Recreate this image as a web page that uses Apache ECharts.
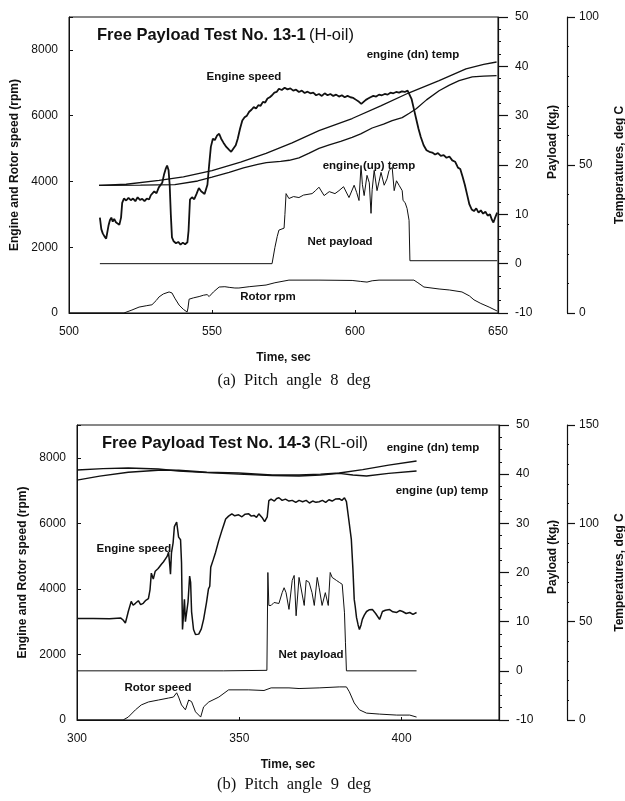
<!DOCTYPE html>
<html>
<head>
<meta charset="utf-8">
<script src="https://cdn.jsdelivr.net/npm/echarts@6/dist/echarts.min.js"></script>
<style>html,body{margin:0;padding:0;background:#fff;}#c{width:625px;height:801px;}</style>
</head>
<body>
<div id="c"></div>
<script>
// ---------- Panel (a): Test 13-1, pitch 8 deg ----------
const aTimeTicks = [500, 550, 600, 650];
const aEngineSpeed = [[510.8,2900],[511.3,2550],[511.8,2420],[512.4,2330],[513.0,2260],[513.4,2300],[513.8,2650],[514.3,2820],[514.8,2900],[515.3,2780],[515.8,2860],[516.4,2760],[517.0,2820],[517.6,2680],[518.2,2900],[518.6,3350],[519.2,3480],[520.0,3420],[520.8,3500],[521.6,3430],[522.4,3480],[523.2,3400],[524.0,3520],[524.8,3440],[525.6,3470],[526.4,3400],[527.2,3480],[528.0,3450],[528.6,3580],[529.2,3520],[529.8,3700],[530.6,3640],[531.4,3820],[532.0,3760],[532.6,3960],[533.2,4200],[533.8,4380],[534.3,4480],[534.8,4350],[535.2,3900],[535.6,3000],[536.0,2300],[536.6,2180],[537.4,2120],[538.2,2160],[539.0,2080],[539.8,2140],[540.6,2090],[541.4,2150],[541.8,2500],[542.3,3450],[543.0,3520],[543.8,3460],[544.6,3620],[545.4,3800],[546.2,3700],[546.8,3760],[547.4,3620],[547.9,3580],[548.4,3900],[549.0,4500],[549.6,5050],[550.3,5300],[551.0,5260],[551.8,5400],[552.5,5450],[553.2,5300],[554.0,5180],[555.0,5050],[556.0,4960],[556.7,4900],[557.5,5000],[558.3,5100],[559.0,5300],[559.8,5600],[560.6,5850],[561.4,5950],[562.2,6000],[563.0,6120],[563.8,6180],[564.6,6260],[565.4,6220],[566.2,6320],[567.0,6300],[567.8,6420],[568.6,6400],[569.4,6520],[570.2,6560],[571.0,6620],[571.8,6700],[572.6,6720],[573.4,6820],[574.4,6780],[575.4,6850],[576.4,6800],[577.4,6830],[578.4,6760],[579.4,6790],[580.4,6720],[581.4,6760],[582.4,6690],[583.4,6730],[584.4,6680],[585.4,6700],[586.4,6620],[587.4,6660],[588.4,6600],[589.4,6680],[590.4,6620],[591.4,6660],[592.4,6600],[593.4,6640],[594.4,6580],[595.4,6620],[596.4,6560],[597.4,6600],[598.4,6560],[599.4,6540],[600.4,6480],[601.4,6420],[602.2,6360],[603.0,6420],[603.8,6480],[604.6,6520],[605.4,6560],[606.4,6600],[607.4,6580],[608.4,6640],[609.4,6620],[610.4,6660],[611.4,6640],[612.4,6700],[613.4,6680],[614.4,6720],[615.4,6700],[616.4,6740],[617.4,6720],[618.4,6760],[619.0,6700],[619.8,6500],[620.6,6200],[621.4,5900],[622.2,5600],[623.0,5350],[624.0,5100],[625.0,4950],[626.0,4900],[627.0,4880],[628.0,4820],[629.0,4860],[630.0,4780],[631.0,4800],[632.0,4720],[633.0,4760],[634.0,4640],[635.0,4600],[636.0,4420],[636.8,4380],[637.6,4150],[638.4,3900],[639.2,3600],[640.0,3300],[640.8,3150],[641.6,3100],[642.4,3180],[643.2,3050],[644.0,3120],[644.8,3020],[645.6,3080],[646.4,2960],[647.2,3000],[647.8,2850],[648.4,2750],[649.0,2900],[649.7,3050]];
const aRotorRpm = [[500,0],[519.2,0],[522,90],[524.5,180],[527,220],[529,250],[530.5,380],[531.5,490],[533,580],[535,640],[536,610],[537,450],[538.5,240],[540,110],[541.3,30],[541.6,150],[542,420],[543.5,460],[545.5,500],[547,540],[548.3,560],[549,500],[550.5,640],[552.5,790],[554.5,800],[556,780],[558,760],[559.4,760],[563,800],[568.9,850],[572,920],[576.9,1000],[587.4,1000],[599,990],[602,960],[604.2,940],[606,980],[608.4,1000],[620.6,1000],[622,920],[624.1,790],[629.4,730],[633,700],[637.4,640],[640,520],[641.6,400],[644,290],[646.9,180],[649.7,60]];
const aNetPayload = [[510.8,0],[571,0],[572,3.3],[572.8,5.5],[573.4,6.8],[575.2,7.2],[575.5,10],[575.9,14.2],[576.9,13.2],[578.5,13.6],[580.4,13.4],[582,13.9],[585,14.2],[586.2,14.8],[587.4,15.5],[589.2,13.8],[591,14.6],[593,14.2],[594.4,14.8],[596,15.6],[597.9,13.4],[599.7,15.9],[600.6,14.4],[601.4,12.8],[602.1,19.9],[602.6,16],[603.2,13.8],[604.2,17.9],[605,16.4],[605.6,10.2],[606,15],[606.7,18.9],[607.7,14.8],[608.4,16.6],[609.1,18.5],[610.2,15.9],[611.2,17.2],[611.9,18.9],[613,19.5],[613.7,14.8],[614.5,16.8],[615.4,15.9],[616.5,14.8],[616.8,12.8],[617.5,12.4],[618.2,11.2],[618.9,8.8],[619.2,0.6],[649.7,0.6]];
const aDnTemp = [[510.5,43.1],[520,43.5],[531.5,44.8],[540,46],[550,48.1],[560,51],[568.9,53.9],[578,57.5],[587.4,61.6],[599,65.7],[609,70],[618.9,74.4],[629.4,78.5],[638.8,82.5],[645,84],[649.5,84.8]];
const aUpTemp = [[510.5,43.1],[525,43.2],[537,43.4],[545,44.6],[550,45.9],[556,47.5],[561,49],[566,50.2],[569,50.8],[574,51.2],[577,51.6],[580.4,52.4],[584,54],[587.4,55.6],[591,56.8],[595,58],[599,59.3],[602,60.5],[606,62.5],[610,63.8],[613,65],[616.5,66],[619,67.5],[621.4,69],[625,72],[629.4,75.1],[633,77],[636.4,78.5],[641,79.8],[645,80],[649.5,80.2]];

// ---------- Panel (b): Test 14-3, pitch 9 deg ----------
const bTimeTicks = [300, 350, 400];
const bEngineSpeed = [[300,3100],[305,3100],[310,3090],[313.5,3110],[314.2,3050],[314.9,2960],[315.4,3150],[315.8,3310],[316.7,3620],[317.3,3500],[318,3560],[318.9,3640],[319.6,3520],[320.4,3560],[321.2,3650],[322,3700],[322.5,3980],[322.9,4480],[323.5,4300],[324.1,4540],[325,4620],[326,4750],[326.6,4820],[327.2,4910],[327.8,5000],[328.2,5120],[328.6,4700],[328.8,4450],[329.1,5100],[329.6,5400],[330,5900],[330.7,6040],[331.3,5580],[331.9,5500],[332.2,4800],[332.5,2760],[332.8,3200],[333.1,3680],[333.4,3000],[333.7,2980],[334.2,3600],[334.7,4390],[335,4200],[335.3,3300],[335.9,2760],[336.5,2610],[337.5,2620],[338.3,2780],[339,3070],[339.9,3590],[340.5,4000],[340.9,4080],[341.2,4660],[342,4900],[342.7,5120],[343.6,5450],[344.6,5770],[345.2,5950],[345.8,6130],[346.7,6220],[347.7,6290],[348.6,6230],[349.8,6260],[350.8,6200],[351.8,6280],[352.9,6290],[353.7,6220],[354.5,6240],[355.3,6180],[356,6290],[357,6180],[357.8,6050],[358.2,6000],[358.6,6200],[359.1,6690],[359.8,6740],[360.8,6680],[361.5,6760],[362.2,6780],[363.2,6700],[364.2,6740],[365.3,6680],[366.3,6700],[367.4,6640],[368.4,6700],[369.5,6660],[370.6,6700],[371.6,6620],[372.6,6680],[373.6,6640],[374.6,6660],[375.6,6700],[376.6,6640],[377.6,6720],[378.6,6680],[379.6,6740],[380.8,6750],[381.6,6700],[382.4,6780],[383,6660],[383.9,5980],[384.5,5520],[385,4600],[385.4,3680],[385.7,3470],[386.1,3130],[386.6,2900],[387,2760],[387.5,2900],[387.9,3070],[388.5,3200],[389.2,3310],[390,3360],[391,3370],[392,3250],[393.2,3070],[393.7,3200],[394.1,3310],[395,3350],[396.3,3370],[397.3,3300],[398.5,3280],[399.4,3340],[400.3,3310],[401.4,3250],[402.5,3280],[403.5,3220],[404.6,3280]];
const bRotorSpeed = [[300,0],[314.2,0],[315.8,90],[318,310],[319.8,460],[322,550],[325.1,610],[328.2,670],[329.7,700],[330.7,830],[331.3,700],[332.2,460],[333.4,310],[334.4,610],[335.3,560],[336.5,250],[338.1,90],[339,400],[340.6,550],[343.7,700],[346.7,920],[352.9,920],[357.6,900],[359.8,980],[365.3,980],[368.4,960],[374.6,980],[380.8,1010],[383,1010],[383.9,860],[385.4,520],[387,310],[389.2,210],[393.2,180],[398.5,150],[402.5,150],[404.6,90]];
const bNetPayload = [[300,0],[345.2,0],[345.4,0.1],[358.5,0.1],[358.8,20],[359.1,13.3],[359.8,13.3],[360.7,13.9],[362.2,13.7],[363.2,15.9],[363.8,16.9],[364.4,15.9],[365.3,12.5],[366.3,18.4],[366.9,19.4],[367.5,11.2],[368.4,19],[369,19.4],[370,13.3],[370.6,18.4],[371.5,18],[372.4,15.9],[373.1,13.3],[374,19],[374.6,16.9],[375.5,13.3],[376.5,15.9],[377.4,13.3],[378,20],[378.6,19],[379.9,18.4],[380.8,18],[381.7,17.6],[382.4,11.8],[382.7,5.7],[383,0],[404.6,0]];
const bDnTemp = [[300,122],[307,124],[315.8,126],[325,127],[331.3,127],[340,126],[349.8,125.6],[360,124.6],[368.4,124.6],[375,125],[380.8,125.6],[388,127.3],[396,129.6],[404.6,131.7]];
const bUpTemp = [[300,127.1],[308,127.8],[315.8,128.1],[325,127.6],[331.3,126.6],[340,125.8],[349.8,125],[360,124.3],[368.4,124.1],[375,124.6],[380.8,125.4],[385,124.6],[389.2,124.1],[396,125.4],[404.6,126.6]];

const SANS = '"Liberation Sans", Arial, Helvetica, sans-serif';
const SERIF = '"Liberation Serif", "Times New Roman", serif';
const BLACK = '#111';

function line(data, xi, yi, w) {
  return {type:'line', xAxisIndex:xi, yAxisIndex:yi, data:data, showSymbol:false, symbol:'none',
    lineStyle:{color:BLACK, width:w}, animation:false, silent:true, z:3};
}
function xAxisCfg(gi, min, max, ticks) {
  return {type:'value', gridIndex:gi, min:min, max:max, interval:50,
    name:'Time, sec', nameLocation:'middle', nameGap:39,
    nameTextStyle:{fontFamily:SANS, fontWeight:'bold', fontSize:12, color:BLACK},
    axisLine:{lineStyle:{color:BLACK, width:1}},
    axisTick:{show:true, inside:true, length:3, lineStyle:{color:BLACK}},
    axisLabel:{margin:13, fontFamily:SANS, fontSize:12, color:BLACK,
      formatter:v => ticks.indexOf(v) >= 0 ? String(v) : ''},
    splitLine:{show:false}};
}
function rpmAxis(gi) {
  return {type:'value', gridIndex:gi, position:'left', min:0, max:9000, interval:2000,
    name:'Engine and Rotor speed (rpm)', nameLocation:'middle', nameGap:48,
    nameTextStyle:{fontFamily:SANS, fontWeight:'bold', fontSize:12, color:BLACK},
    axisLine:{show:true, lineStyle:{color:BLACK, width:1}},
    axisTick:{show:true, inside:true, length:4, lineStyle:{color:BLACK}},
    axisLabel:{margin:11, fontFamily:SANS, fontSize:12, color:BLACK,
      formatter:v => v % 2000 === 0 ? String(v) : ''},
    splitLine:{show:false}};
}
function payloadAxis(gi) {
  return {type:'value', gridIndex:gi, position:'right', min:-10, max:50, interval:10,
    axisLine:{show:true, lineStyle:{color:BLACK, width:1.2}},
    axisTick:{show:true, inside:false, length:10, lineStyle:{color:BLACK, width:1.2}},
    minorTick:{show:true, splitNumber:4, length:3, lineStyle:{color:BLACK}},
    axisLabel:{margin:17, fontFamily:SANS, fontSize:12, color:BLACK},
    splitLine:{show:false}};
}
function tempAxis(gi, max, off) {
  return {type:'value', gridIndex:gi, position:'right', offset:off, min:0, max:max, interval:50,
    name:'Temperatures, deg C', nameLocation:'middle', nameGap:47,
    nameTextStyle:{fontFamily:SANS, fontWeight:'bold', fontSize:12, color:BLACK},
    axisLine:{show:true, lineStyle:{color:BLACK, width:1.2}},
    axisTick:{show:true, inside:false, length:8, lineStyle:{color:BLACK, width:1.2}},
    minorTick:{show:true, splitNumber:5, length:2, lineStyle:{color:BLACK}},
    axisLabel:{margin:12, fontFamily:SANS, fontSize:12, color:BLACK},
    splitLine:{show:false}};
}
function txt(s, x, y, opts) {
  opts = opts || {};
  return {type:'text', x:x, y:y, rotation:opts.rot || 0, z:10, silent:true,
    style:{text:s, font:opts.font || ('bold 11.5px ' + SANS), fill:BLACK,
      align:opts.align || 'center', verticalAlign:'middle',
      textAlign:opts.align || 'center', textVerticalAlign:'middle', rich:opts.rich}};
}
const titleRich = {b:{font:'bold 16.5px ' + SANS, fill:BLACK}, n:{font:'16.5px ' + SANS, fill:BLACK}};
const payRich = {a:{font:'bold 12px ' + SANS, fill:BLACK}, s:{font:'bold 8px ' + SANS, fill:BLACK, padding:[6,0,0,0]}};

const chart = echarts.init(document.getElementById('c'), null, {renderer:'canvas'});
chart.setOption({
  backgroundColor:'#fff',
  animation:false,
  grid:[
    {left:69, top:17, width:429, height:296, show:true, borderColor:BLACK, borderWidth:1, backgroundColor:'transparent', containLabel:false, outerBoundsMode:'none'},
    {left:77, top:425, width:422, height:295, show:true, borderColor:BLACK, borderWidth:1, backgroundColor:'transparent', containLabel:false, outerBoundsMode:'none'}
  ],
  xAxis:[xAxisCfg(0, 500, 650, aTimeTicks), xAxisCfg(1, 300, 430, bTimeTicks)],
  yAxis:[rpmAxis(0), payloadAxis(0), tempAxis(0, 100, 69), rpmAxis(1), payloadAxis(1), tempAxis(1, 150, 68)],
  series:[
    line(aRotorRpm, 0, 0, 1),
    line(aNetPayload, 0, 1, 1),
    line(aDnTemp, 0, 2, 1.3),
    line(aUpTemp, 0, 2, 1.3),
    line(aEngineSpeed, 0, 0, 1.8),
    line(bRotorSpeed, 1, 3, 1),
    line(bNetPayload, 1, 4, 1),
    line(bDnTemp, 1, 5, 1.4),
    line(bUpTemp, 1, 5, 1.4),
    line(bEngineSpeed, 1, 3, 1.5)
  ],
  graphic:[
    txt('{b|Free Payload Test No. 13-1} {n|(H-oil)}', 97, 35, {align:'left', rich:titleRich}),
    txt('Engine speed', 244, 77),
    txt('engine (dn) temp', 413, 55),
    txt('engine (up) temp', 369, 166),
    txt('Net payload', 340, 242),
    txt('Rotor rpm', 268, 297),
    txt('{a|Payload (kg}{s|f}{a|)}', 553, 142, {rot:Math.PI/2, rich:payRich}),
    txt('(a)  Pitch  angle  8  deg', 294, 381, {font:'16.5px ' + SERIF}),

    txt('{b|Free Payload Test No. 14-3} {n|(RL-oil)}', 102, 443, {align:'left', rich:titleRich}),
    txt('engine (dn) temp', 433, 448),
    txt('engine (up) temp', 442, 491),
    txt('Engine speed', 134, 549),
    txt('Net payload', 311, 655),
    txt('Rotor speed', 158, 688),
    txt('{a|Payload (kg}{s|f}{a|)}', 553, 557, {rot:Math.PI/2, rich:payRich}),
    txt('(b)  Pitch  angle  9  deg', 294, 785, {font:'16.5px ' + SERIF})
  ]
});
</script>
</body>
</html>
